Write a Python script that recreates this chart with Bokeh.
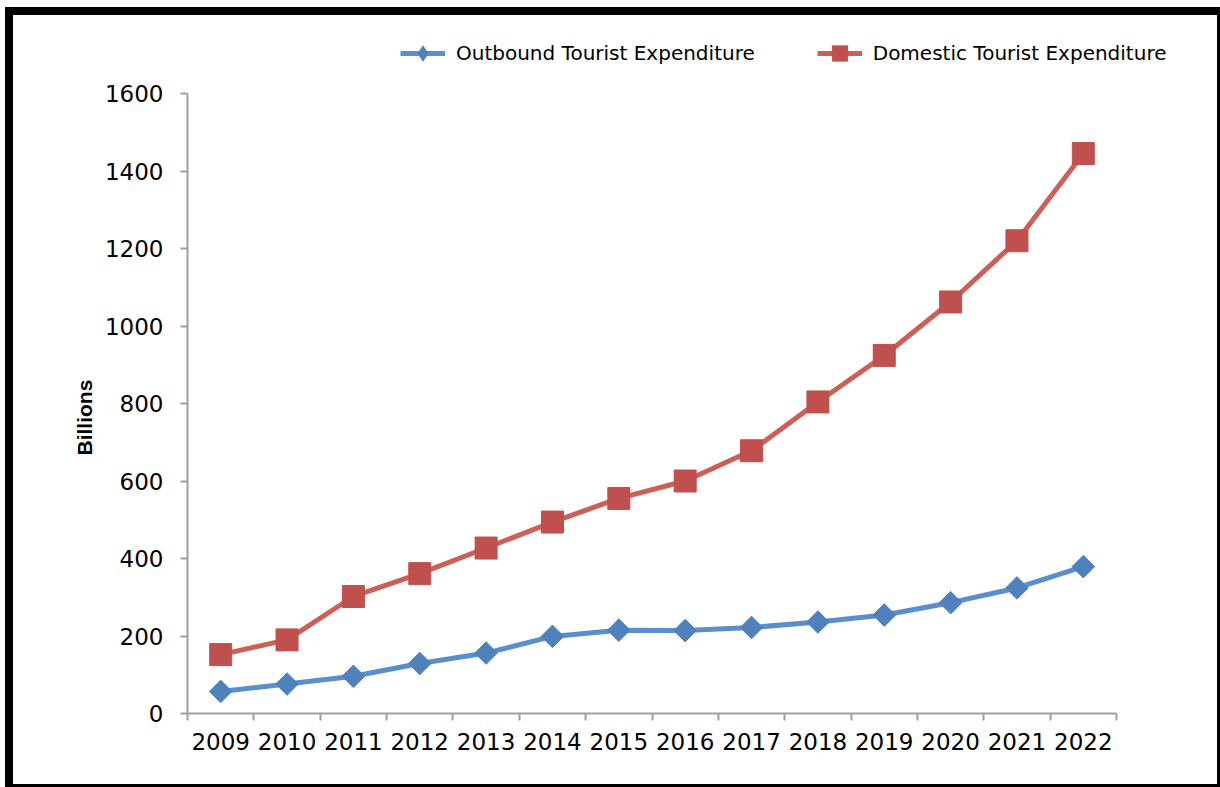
import math
from bokeh.plotting import figure
from bokeh.models import (Range1d, FixedTicker, Legend, LegendItem, Title)
from bokeh.embed import file_html
from bokeh.resources import INLINE

years = ["2009", "2010", "2011", "2012", "2013", "2014", "2015",
         "2016", "2017", "2018", "2019", "2020", "2021", "2022"]
outbound = [57, 76, 96, 129, 156, 199, 215, 214, 222, 236, 254, 286, 324, 379]
domestic = [152, 190, 302, 361, 427, 494, 555, 600, 678, 804, 924, 1062, 1220, 1445]
y_ticks = [0, 200, 400, 600, 800, 1000, 1200, 1400, 1600]
y_max = 1600

# category positions: centre of each slot on a 0..N axis
xpos = [i + 0.5 for i in range(len(years))]
bounds = list(range(len(years) + 1))

BLUE_LINE = "#5a8fcc"
BLUE_MARK = "#4f81bd"
RED_LINE = "#cd5f57"
RED_MARK = "#c0504d"
AXIS = "#a0a0a0"
FONT = "DejaVu Sans"

# layout (pixels): axes occupy x 187..1116, y 93..713; the frame is larger
# so that the legend (drawn inside the frame) can sit above the axes.
W, H = 1220, 787
AX_L, AX_R, AX_T, AX_B = 187, 1116, 93, 713
FR_R, FR_T = 1200, 20
x_end = len(years) * (FR_R - AX_L) / (AX_R - AX_L)
y_end = y_max * (AX_B - FR_T) / (AX_B - AX_T)

p = figure(width=W, height=H,
           x_range=Range1d(0, x_end),
           y_range=Range1d(0, y_end),
           output_backend="svg", toolbar_location=None,
           min_border_left=AX_L, min_border_right=W - FR_R,
           min_border_top=FR_T, min_border_bottom=H - AX_B)

p.border_fill_color = None
p.background_fill_color = "white"
p.outline_line_color = None
p.grid.visible = False
p.styles = {
    "background-color": "white",
    "box-shadow": "inset 5px 7px 0 0 #fff, inset 13px 15px 0 0 #000, inset -3px -3px 0 0 #000",
}

# y axis
ya = p.yaxis[0]
ya.bounds = (0, y_max)
ya.ticker = FixedTicker(ticks=y_ticks)
ya.axis_line_color = AXIS
ya.axis_line_width = 2
ya.major_tick_line_color = AXIS
ya.major_tick_line_width = 2
ya.major_tick_out = 7
ya.major_tick_in = 0
ya.minor_tick_line_color = None
ya.major_label_text_font = FONT
ya.major_label_text_font_size = "23px"
ya.major_label_text_color = "black"
ya.major_label_standoff = 17

ytitle = Title(text="Billions", align="left", offset=AX_B - 455,
               text_font="Liberation Sans", text_font_style="bold",
               text_font_size="21px", text_color="black", standoff=12)
p.add_layout(ytitle, "left")

# x axis: labels at slot centres, tick marks at slot boundaries
xa = p.xaxis[0]
xa.bounds = (0, len(years))
xa.ticker = FixedTicker(ticks=xpos, minor_ticks=bounds)
xa.major_label_overrides = {x: y for x, y in zip(xpos, years)}
xa.axis_line_color = AXIS
xa.axis_line_width = 2
xa.major_tick_line_color = None
xa.major_tick_out = 7
xa.major_tick_in = 0
xa.minor_tick_line_color = AXIS
xa.minor_tick_line_width = 2
xa.minor_tick_out = 7
xa.minor_tick_in = 0
xa.major_label_text_font = FONT
xa.major_label_text_font_size = "23px"
xa.major_label_text_color = "black"
xa.major_label_standoff = 12

# series
l1 = p.line(xpos, outbound, line_color=BLUE_LINE, line_width=5)
l2 = p.line(xpos, domestic, line_color=RED_LINE, line_width=5)
# diamond used as the legend key; it lies fully under the rotated squares below
key1 = p.scatter(xpos, outbound, marker="diamond", size=17,
                 fill_color=BLUE_MARK, line_color=BLUE_MARK)
s1 = p.scatter(xpos, outbound, marker="square", angle=math.pi / 4, size=16,
               fill_color=BLUE_MARK, line_color=BLUE_MARK)
s2 = p.scatter(xpos, domestic, marker="square", size=22,
               fill_color=RED_MARK, line_color=RED_MARK)

legend = Legend(items=[
    LegendItem(label="Outbound Tourist Expenditure", renderers=[l1, key1]),
    LegendItem(label="Domestic Tourist Expenditure", renderers=[l2, s2]),
], orientation="horizontal", location=(400 - AX_L, AX_B - 72))
legend.glyph_width = 45
legend.glyph_height = 38
legend.label_height = 38
legend.label_standoff = 11
legend.spacing = 62
legend.padding = 0
legend.margin = 0
legend.border_line_color = None
legend.background_fill_alpha = 0
legend.label_text_font = FONT
legend.label_text_font_size = "20px"
legend.label_text_color = "black"
p.add_layout(legend, "center")

open("out.html", "w").write(file_html(p, INLINE))
